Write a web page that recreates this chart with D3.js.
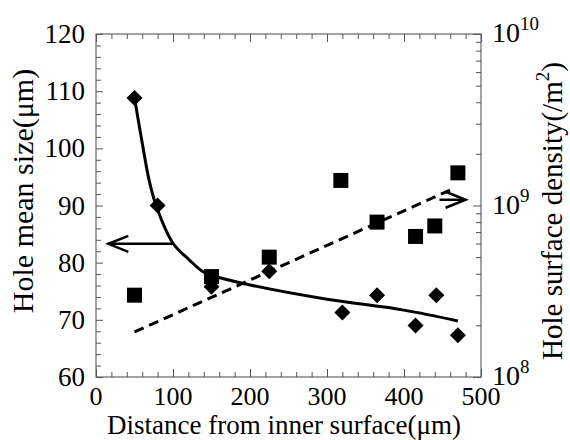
<!DOCTYPE html>
<html>
<head>
<meta charset="utf-8">
<script src="https://cdn.jsdelivr.net/npm/d3@7"></script>
<style>
  body { margin: 0; background: #fff; }
  svg text { font-family: "Liberation Serif", "Times New Roman", serif; fill: #000; }
</style>
</head>
<body>
<div id="chart"></div>
<script>
// mean hole size (diamonds, left axis)
var sizeDist = [50, 80, 150, 225, 320, 365, 415, 442, 470];
var sizeVals = [108.8, 90, 75.8, 78.5, 71.3, 74.3, 69, 74.3, 67.3];

// hole surface density (squares, right axis, log)
var densDist = [50, 150, 225, 318, 365, 415, 440, 470];
var densVals = [3.0e8, 3.85e8, 5.0e8, 1.4e9, 8.0e8, 6.6e8, 7.6e8, 1.55e9];

// solid fit curve
var fitDist = [50, 61, 69, 78, 100, 121, 139, 150, 200, 300, 400, 470];
var fitSize = [108.8, 100.2, 94.4, 90, 83.4, 80.5, 78.4, 77.8, 76.1, 73.6, 71.7, 69.8];

// dashed fit line
var dashDist = [50, 465];
var dashDens = [1.83e8, 1.26e9];

var xTicks = [0, 100, 200, 300, 400, 500];
var yTicks = [60, 70, 80, 90, 100, 110, 120];
var yRTicks = [8, 9, 10];

var margin = {top: 34, right: 89, bottom: 63, left: 96};
var W = 570, H = 440;
var width = W - margin.left - margin.right;
var height = H - margin.top - margin.bottom;

var svg = d3.select('#chart').append('svg').attr('width', W).attr('height', H);
var g = svg.append('g').attr('transform', 'translate(' + margin.left + ',' + margin.top + ')');

var x = d3.scaleLinear().domain([0, 500]).range([0, width]);
var y = d3.scaleLinear().domain([60, 120]).range([height, 0]);
var yR = d3.scaleLog().domain([1e8, 1e10]).range([height, 0]);

var minorX = d3.range(0, 501, 20).filter(function(d) { return d % 100 !== 0; });
var minorY = d3.range(60, 121, 2).filter(function(d) { return d % 10 !== 0; });
var minorR = [];
[1e8, 1e9].forEach(function(b) { for (var k = 2; k <= 9; k++) minorR.push(b * k); });

function styleAxis(sel) {
	sel.select('.domain').remove();
	sel.selectAll('line').attr('stroke', '#555').attr('stroke-width', 1);
	sel.selectAll('text').remove();
}

// frame
g.append('rect')
	.attr('width', width).attr('height', height)
	.attr('fill', 'none').attr('stroke', '#666').attr('stroke-width', 1.2);

// ticks, all pointing inward
g.append('g').attr('transform', 'translate(0,' + height + ')')
	.call(d3.axisBottom(x).tickValues(xTicks).tickSize(-8)).call(styleAxis);
g.append('g').attr('transform', 'translate(0,' + height + ')')
	.call(d3.axisBottom(x).tickValues(minorX).tickSize(-5)).call(styleAxis);
g.append('g')
	.call(d3.axisTop(x).tickValues(xTicks).tickSize(-8)).call(styleAxis);
g.append('g')
	.call(d3.axisTop(x).tickValues(minorX).tickSize(-5)).call(styleAxis);
g.append('g')
	.call(d3.axisLeft(y).tickValues(yTicks).tickSize(-7)).call(styleAxis);
g.append('g')
	.call(d3.axisLeft(y).tickValues(minorY).tickSize(-5)).call(styleAxis);
g.append('g').attr('transform', 'translate(' + width + ',0)')
	.call(d3.axisRight(yR).tickValues([1e8, 1e9, 1e10]).tickSize(-8)).call(styleAxis);
g.append('g').attr('transform', 'translate(' + width + ',0)')
	.call(d3.axisRight(yR).tickValues(minorR).tickSize(-5)).call(styleAxis);

// tick labels
g.selectAll('.xl').data(xTicks).enter().append('text')
	.attr('x', function(d) { return x(d); })
	.attr('y', height + 28)
	.attr('text-anchor', 'middle')
	.style('font-size', '26px')
	.text(function(d) { return d; });

g.selectAll('.yl').data(yTicks).enter().append('text')
	.attr('x', -11)
	.attr('y', function(d) { return y(d) + 9; })
	.attr('text-anchor', 'end')
	.style('font-size', '27px')
	.text(function(d) { return d; });

var rl = g.selectAll('.rl').data(yRTicks).enter().append('text')
	.attr('x', width + 11)
	.attr('y', function(d) { return yR(Math.pow(10, d)) + 8; })
	.style('font-size', '28px');
rl.append('tspan').text('10');
rl.append('tspan').attr('dy', -12).style('font-size', '19px').text(function(d) { return d; });

// axis titles
svg.append('text')
	.attr('x', 284)
	.attr('y', 434)
	.attr('text-anchor', 'middle')
	.style('font-size', '27px')
	.text('Distance from inner surface(μm)');

svg.append('text')
	.attr('transform', 'translate(33,191) rotate(-90)')
	.attr('text-anchor', 'middle')
	.style('font-size', '30px')
	.text('Hole mean size(μm)');

var rt = svg.append('text')
	.attr('transform', 'translate(562,211) rotate(-90)')
	.attr('text-anchor', 'middle')
	.style('font-size', '29px');
rt.append('tspan').text('Hole surface density(/m');
rt.append('tspan').attr('dy', -13).style('font-size', '19px').text('2');
rt.append('tspan').attr('dy', 13).text(')');

// fits
var fitLine = d3.line()
	.x(function(d) { return x(d[0]); })
	.y(function(d) { return y(d[1]); })
	.curve(d3.curveCatmullRom);
g.append('path')
	.attr('d', fitLine(d3.zip(fitDist, fitSize)))
	.attr('fill', 'none').attr('stroke', '#000').attr('stroke-width', 3);

var dashLine = d3.line()
	.x(function(d) { return x(d[0]); })
	.y(function(d) { return yR(d[1]); });
g.append('path')
	.attr('d', dashLine(d3.zip(dashDist, dashDens)))
	.attr('fill', 'none').attr('stroke', '#000').attr('stroke-width', 3)
	.attr('stroke-dasharray', '10,6');

// arrows
function arrow(x1, y1, x2, y2, dir) {
	g.append('line')
		.attr('x1', x1).attr('y1', y1).attr('x2', x2).attr('y2', y2)
		.attr('stroke', '#000').attr('stroke-width', 2.5);
	g.append('path')
		.attr('d', 'M' + (x2 - dir * 20) + ',' + (y2 - 8) + 'L' + x2 + ',' + y2 + 'L' + (x2 - dir * 20) + ',' + (y2 + 8))
		.attr('fill', 'none').attr('stroke', '#000').attr('stroke-width', 2.5);
}
arrow(x(100), y(83.3), x(16), y(83.3), -1);
arrow(x(446), yR(1.08e9), x(480), yR(1.08e9), 1);

// markers
g.selectAll('.dm').data(d3.zip(sizeDist, sizeVals)).enter().append('path')
	.attr('transform', function(d) { return 'translate(' + x(d[0]) + ',' + y(d[1]) + ')'; })
	.attr('d', 'M0,-8L8,0L0,8L-8,0Z')
	.attr('fill', '#000');

g.selectAll('.sq').data(d3.zip(densDist, densVals)).enter().append('rect')
	.attr('x', function(d) { return x(d[0]) - 7.5; })
	.attr('y', function(d) { return yR(d[1]) - 7.5; })
	.attr('width', 15).attr('height', 15)
	.attr('fill', '#000');
</script>
</body>
</html>
